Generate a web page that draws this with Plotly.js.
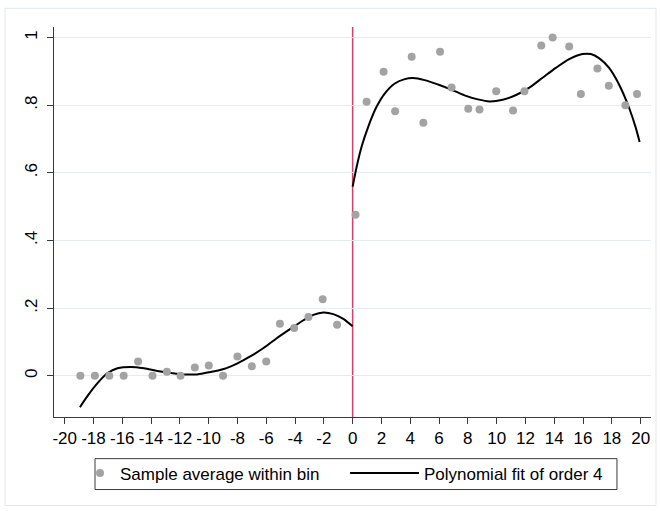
<!DOCTYPE html>
<html>
<head>
<meta charset="utf-8">
<script src="https://cdn.plot.ly/plotly-3.0.1.min.js"></script>
<style>html,body{margin:0;padding:0;background:#fff;}#chart{width:661px;height:511px;}</style>
</head>
<body>
<div id="chart"></div>
<script>
// Bin averages (left of cutoff)
const binLeftX = [-18.91,-17.9,-16.9,-15.9,-14.9,-13.9,-12.9,-11.95,-10.96,-9.99,-9.0,-8.0,-7.0,-6.0,-5.05,-4.06,-3.07,-2.08,-1.08];
const binLeftY = [0,0,0,0,0.042,0,0.012,0,0.024,0.030,0,0.057,0.028,0.042,0.154,0.141,0.174,0.226,0.151];
// Bin averages (right of cutoff)
const binRightX = [0.2,0.97,2.15,2.95,4.1,4.91,6.07,6.87,8.03,8.81,9.97,11.14,11.93,13.1,13.89,15.04,15.85,17.0,17.79,18.94,19.75];
const binRightY = [0.476,0.810,0.899,0.782,0.943,0.748,0.958,0.852,0.789,0.787,0.841,0.784,0.841,0.976,1.0,0.973,0.833,0.908,0.857,0.800,0.833];
// Polynomial fit
const fitLeftX = [-18.94,-18.43,-17.72,-17.02,-16.33,-15.41,-14.49,-13.56,-12.64,-11.72,-10.8,-9.88,-8.95,-8.03,-7.11,-6.19,-5.27,-4.34,-3.42,-2.73,-2.03,-1.34,-0.65,0];
const fitLeftY = [-0.093,-0.061,-0.022,0.008,0.022,0.026,0.022,0.014,0.008,0.004,0.004,0.011,0.020,0.036,0.057,0.082,0.111,0.138,0.164,0.180,0.187,0.182,0.168,0.146];
const fitRightX = [0,0.28,0.62,1.08,1.66,2.24,2.93,3.62,4.19,5.0,5.93,6.85,7.77,8.7,9.5,10.42,11.35,12.27,13.19,14.11,15.04,15.96,16.54,17.11,17.81,18.5,19.19,19.65,19.93];
const fitRightY = [0.559,0.618,0.677,0.736,0.795,0.835,0.864,0.877,0.880,0.874,0.861,0.846,0.829,0.817,0.811,0.816,0.830,0.852,0.881,0.910,0.936,0.951,0.951,0.939,0.910,0.861,0.793,0.735,0.691];
// Ticks
const xTicks = [-20,-18,-16,-14,-12,-10,-8,-6,-4,-2,0,2,4,6,8,10,12,14,16,18,20];
const yTickVals = [0,0.2,0.4,0.6,0.8,1];
const yTickText = ["0",".2",".4",".6",".8","1"];
const cutoff = 0;
const legendLabels = ["Sample average within bin","Polynomial fit of order 4"];

const FONT = '"Liberation Sans", Arial, Helvetica, sans-serif';
const FS = 17;

const traces = [
  {x: fitLeftX, y: fitLeftY, type:'scatter', mode:'lines', line:{color:'#000', width:2, shape:'spline', smoothing:0.8},
   name: legendLabels[1], legend:'legend2', legendgroup:'fit', showlegend:false},
  {x: fitRightX, y: fitRightY, type:'scatter', mode:'lines', line:{color:'#000', width:2, shape:'spline', smoothing:0.8},
   name: legendLabels[1], legend:'legend2', legendgroup:'fit', showlegend:true},
  {x: binLeftX.concat(binRightX), y: binLeftY.concat(binRightY), type:'scatter', mode:'markers',
   marker:{color:'#a3a3a3', size:8}, name: legendLabels[0], legend:'legend', showlegend:true}
];

const layout = {
  width:661, height:511,
  margin:{l:54, r:10, t:27, b:94},
  paper_bgcolor:'#fff', plot_bgcolor:'#fff',
  font:{family:FONT, size:FS, color:'#000'},
  xaxis:{range:[-20.74,20.72], tickvals:xTicks, ticktext:xTicks.map(String), showgrid:false, zeroline:false,
    showline:true, linecolor:'#3a3a3a', linewidth:1, ticks:'outside', ticklen:6, tickcolor:'#3a3a3a',
    tickfont:{family:FONT, size:FS, color:'#000'}},
  yaxis:{range:[-0.122,1.031], tickvals:yTickVals, ticktext:yTickText, tickangle:-90, showgrid:true,
    gridcolor:'rgb(228,236,239)', gridwidth:1, zeroline:false, ticklabelstandoff:3,
    showline:true, linecolor:'#3a3a3a', linewidth:1, ticks:'outside', ticklen:6, tickcolor:'#3a3a3a',
    tickfont:{family:FONT, size:FS, color:'#000'}},
  showlegend:true,
  legend:{x:0.0436, xanchor:'left', y:-0.145, yanchor:'middle', orientation:'h', borderwidth:0,
    bgcolor:'rgba(0,0,0,0)', font:{family:FONT, size:FS, color:'#000'}, itemwidth:30},
  legend2:{x:0.4874, xanchor:'left', y:-0.145, yanchor:'middle', orientation:'h', borderwidth:0,
    bgcolor:'rgba(0,0,0,0)', font:{family:FONT, size:FS, color:'#000'}, itemwidth:69},
  shapes:[
    {type:'line', xref:'x', yref:'paper', x0:cutoff, x1:cutoff, y0:0, y1:1, layer:'below',
     line:{color:'rgb(214,64,104)', width:1.5}},
    {type:'rect', xref:'paper', yref:'paper', x0:0.0687, x1:0.943, y0:-0.186, y1:-0.1068,
     line:{color:'#3a3a3a', width:1}, fillcolor:'rgba(0,0,0,0)'},
    {type:'rect', xref:'paper', yref:'paper', x0:-0.0821, x1:1.0084, y0:-0.227, y1:1.0479,
     line:{color:'rgb(224,231,234)', width:1}, fillcolor:'rgba(0,0,0,0)'}
  ]
};

Plotly.newPlot('chart', traces, layout, {staticPlot:true, displayModeBar:false});
</script>
</body>
</html>
